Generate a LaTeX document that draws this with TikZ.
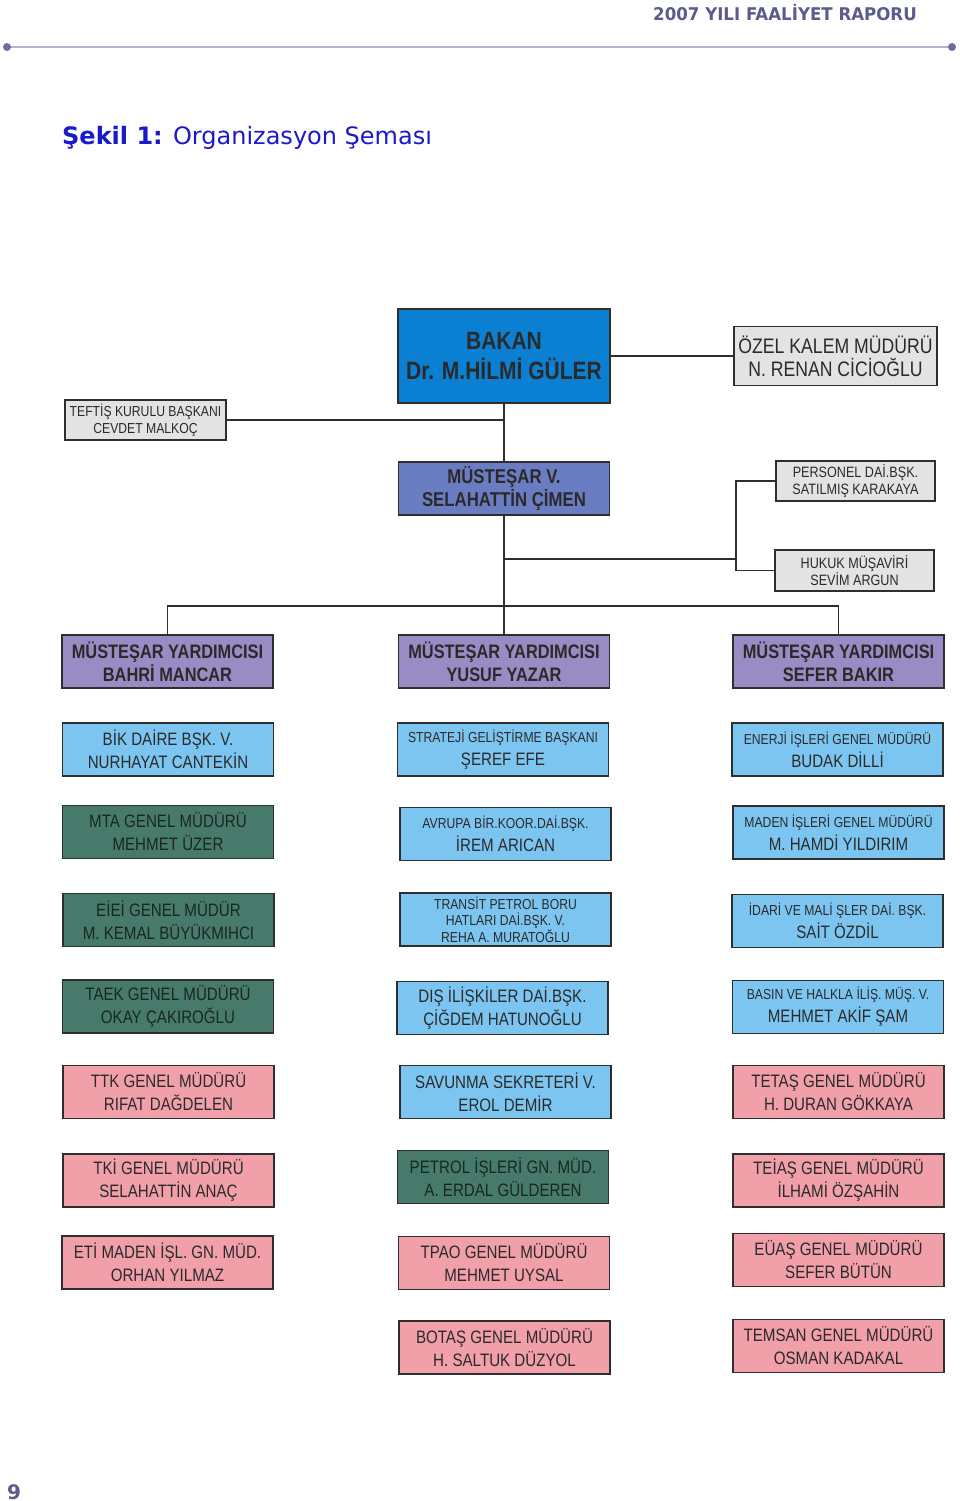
\documentclass[tikz,border=0pt]{standalone}
\usepackage{fontspec}
\setmainfont{Liberation Sans}
\newfontfamily\nfont[FakeStretch=0.84]{Liberation Sans}
\newfontfamily\hdfont[FakeStretch=0.95]{DejaVu Sans}
\newfontfamily\ttlfont{DejaVu Sans}
\definecolor{hdcol}{HTML}{5B5B8C}
\definecolor{rulecol}{HTML}{B4B4CA}
\definecolor{dotcol}{HTML}{6E6E9E}
\definecolor{ttlcol}{HTML}{1A1ACC}
\definecolor{bakancol}{HTML}{0B7FD1}
\definecolor{mvcol}{HTML}{6A7DC2}
\definecolor{mycol}{HTML}{9B8BC4}
\definecolor{bluecol}{HTML}{7CC5F0}
\definecolor{greencol}{HTML}{477A6B}
\definecolor{pinkcol}{HTML}{F1A0AA}
\definecolor{graycol}{HTML}{E3E3E3}
\definecolor{bordcol}{HTML}{2E2E2E}
\definecolor{txtcol}{HTML}{2A2A2A}
\definecolor{gtxtcol}{HTML}{172823}
\tikzset{
  x=1pt, y=-1pt,
  box/.style={draw=bordcol, line width=1.8pt, inner sep=0pt, minimum width=211pt,
    minimum height=53pt, align=center, text=txtcol, font=\nfont\fontsize{18}{23}\selectfont},
  bluebox/.style={box, fill=bluecol},
  greenbox/.style={box, fill=greencol, text=gtxtcol},
  pinkbox/.style={box, fill=pinkcol},
  graybox/.style={box, fill=graycol, font=\nfont\fontsize{15}{17.5}\selectfont, minimum width=159pt, minimum height=40pt},
  mybox/.style={box, fill=mycol, font=\nfont\bfseries\fontsize{19.5}{23}\selectfont},
  conn/.style={draw=bordcol, line width=1.8pt}
}
\newcommand\sm[1]{{\fontsize{14.5}{23}\selectfont #1}}
\begin{document}
\begin{tikzpicture}
\useasboundingbox[fill=white] (0,0) rectangle (960,1501);
% header
\node[anchor=base east, inner sep=0pt, text=hdcol, font=\hdfont\bfseries\fontsize{17.5}{20}\selectfont] (hd) at (917,21) {2007 YILI FAALİYET RAPORU};
\coordinate (rl) at (7,47);
\coordinate (rr) at (952,47);
\draw[draw=rulecol, line width=1.6pt] (rl) -- (rr);
\fill[dotcol] (rl) circle (4pt) (rr) circle (4pt);
\node[anchor=base west, inner sep=0pt, text=ttlcol, font=\ttlfont\fontsize{24}{27}\selectfont] (ttl) at (62,144) {\textbf{Şekil 1:} Organizasyon Şeması};
% top level
\node[box, fill=bakancol, minimum width=212pt, minimum height=94pt, font=\nfont\bfseries\fontsize{25}{30}\selectfont] (bakan) at (504,356) {BAKAN\\Dr. M.HİLMİ GÜLER};
\node[graybox, minimum width=203pt, minimum height=59pt, font=\nfont\fontsize{21}{23}\selectfont] (ozel) at (835.5,356) {ÖZEL KALEM MÜDÜRÜ\\N. RENAN CİCİOĞLU};
\node[graybox, minimum width=161pt, font=\nfont\fontsize{14.5}{17.5}\selectfont] (teftis) at (145.5,420) {TEFTİŞ KURULU BAŞKANI\\CEVDET MALKOÇ};
\node[box, fill=mvcol, font=\nfont\bfseries\fontsize{20}{23}\selectfont] (mv) at (504,488.5) {MÜSTEŞAR V.\\SELAHATTİN ÇİMEN};
\node[graybox] (personel) at (855.5,481) {PERSONEL DAİ.BŞK.\\SATILMIŞ KARAKAYA};
\node[graybox, minimum height=41pt] (hukuk) at (854.5,570.5) {HUKUK MÜŞAVİRİ\\SEVİM ARGUN};
\node[mybox] (my1) at (167.5,661.5) {MÜSTEŞAR YARDIMCISI\\BAHRİ MANCAR};
\node[mybox] (my2) at (504,661.5) {MÜSTEŞAR YARDIMCISI\\YUSUF YAZAR};
\node[mybox] (my3) at (838.5,661.5) {MÜSTEŞAR YARDIMCISI\\SEFER BAKIR};
% connectors
\draw[conn] (bakan.south) -- (mv.north);
\draw[conn] (teftis.east) -- (teftis.east -| bakan.south);
\draw[conn] (bakan.east) -- (ozel.west);
\draw[conn] (mv.south) -- (my2.north);
\coordinate (j) at (736,559);
\draw[conn] (j -| mv.south) -- (j);
\draw[conn] (personel.west) -| (j) |- (hukuk.west);
\draw[conn] (my1.north) -- ++(0,-28) -| (my3.north);
% left column
\node[bluebox] (bik) at (168,749.5) {BİK DAİRE BŞK. V.\\NURHAYAT CANTEKİN};
\node[greenbox] (mta) at (168,832) {MTA GENEL MÜDÜRÜ\\MEHMET ÜZER};
\node[greenbox] (eiei) at (168.5,920) {EİEİ GENEL MÜDÜR\\M. KEMAL BÜYÜKMIHCI};
\node[greenbox] (taek) at (168,1006.5) {TAEK GENEL MÜDÜRÜ\\OKAY ÇAKIROĞLU};
\node[pinkbox] (ttk) at (168.5,1092) {TTK GENEL MÜDÜRÜ\\RIFAT DAĞDELEN};
\node[pinkbox] (tki) at (168.5,1180.5) {TKİ GENEL MÜDÜRÜ\\SELAHATTİN ANAÇ};
\node[pinkbox] (eti) at (167.5,1262.5) {ETİ MADEN İŞL. GN. MÜD.\\ORHAN YILMAZ};
% middle column
\node[bluebox] (strateji) at (503,749.5) {\sm{STRATEJİ GELİŞTİRME BAŞKANI}\\ŞEREF EFE};
\node[bluebox] (avrupa) at (505.5,834) {\sm{AVRUPA BİR.KOOR.DAİ.BŞK.}\\İREM ARICAN};
\node[bluebox, font=\nfont\fontsize{14.5}{16.5}\selectfont] (transit) at (505.5,919.5) {TRANSİT PETROL BORU\\HATLARI DAİ.BŞK. V.\\REHA A. MURATOĞLU};
\node[bluebox] (dis) at (502.5,1008) {DIŞ İLİŞKİLER DAİ.BŞK.\\ÇİĞDEM HATUNOĞLU};
\node[bluebox] (savunma) at (505.5,1092) {SAVUNMA SEKRETERİ V.\\EROL DEMİR};
\node[greenbox] (petrol) at (503,1177) {PETROL İŞLERİ GN. MÜD.\\A. ERDAL GÜLDEREN};
\node[pinkbox] (tpao) at (504,1263) {TPAO GENEL MÜDÜRÜ\\MEHMET UYSAL};
\node[pinkbox] (botas) at (504.5,1347.5) {BOTAŞ GENEL MÜDÜRÜ\\H. SALTUK DÜZYOL};
% right column
\node[bluebox] (enerji) at (837.5,749.5) {\sm{ENERJİ İŞLERİ GENEL MÜDÜRÜ}\\BUDAK DİLLİ};
\node[bluebox] (maden) at (838.5,832.5) {\sm{MADEN İŞLERİ GENEL MÜDÜRÜ}\\M. HAMDİ YILDIRIM};
\node[bluebox] (idari) at (837.5,921) {\sm{İDARİ VE MALİ ŞLER DAİ. BŞK.}\\SAİT ÖZDİL};
\node[bluebox] (basin) at (838,1007) {\sm{BASIN VE HALKLA İLİŞ. MÜŞ. V.}\\MEHMET AKİF ŞAM};
\node[pinkbox] (tetas) at (838.5,1092) {TETAŞ GENEL MÜDÜRÜ\\H. DURAN GÖKKAYA};
\node[pinkbox] (teias) at (838.5,1180.5) {TEİAŞ GENEL MÜDÜRÜ\\İLHAMİ ÖZŞAHİN};
\node[pinkbox] (euas) at (838.5,1260) {EÜAŞ GENEL MÜDÜRÜ\\SEFER BÜTÜN};
\node[pinkbox] (temsan) at (838.5,1346) {TEMSAN GENEL MÜDÜRÜ\\OSMAN KADAKAL};
% page number
\node[anchor=base west, inner sep=0pt, text=hdcol, font=\ttlfont\bfseries\fontsize{20}{22}\selectfont] (pg) at (7,1499) {9};
\end{tikzpicture}
\end{document}
